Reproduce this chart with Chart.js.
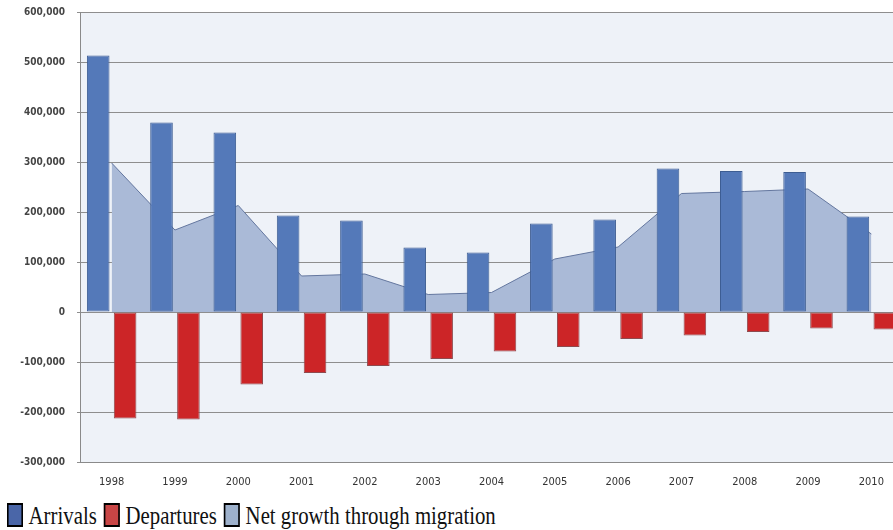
<!DOCTYPE html>
<html>
<head>
<meta charset="utf-8">
<script src="https://cdn.jsdelivr.net/npm/chart.js@4/dist/chart.umd.min.js"></script>
<style>
  body { margin: 0; background: #fff; width: 893px; height: 530px; overflow: hidden; position: relative; }
  #myChart { position: absolute; left: 0; top: 0; }
  #legend {
    position: absolute; left: 7px; top: 503px;
    display: flex; align-items: flex-start;
    font-family: "Liberation Serif", "Times New Roman", serif;
    font-size: 26px; line-height: 26px; color: #111;
    transform: scaleX(0.8); transform-origin: left top;
    white-space: nowrap;
  }
  #legend .box { width: 16px; height: 20px; border: 2px solid #000; margin-right: 7px; }
  #legend .item { display: flex; align-items: flex-start; margin-right: 9px; }
</style>
</head>
<body>
<canvas id="myChart" width="906" height="500"></canvas>
<div id="legend"></div>
<script>
const years = ["1998", "1999", "2000", "2001", "2002", "2003", "2004", "2005", "2006", "2007", "2008", "2009", "2010"];
const arrivals = [513000, 379000, 359000, 193000, 183000, 129000, 119000, 177000, 185000, 287000, 282000, 280000, 191000];
const departures = [-213000, -215000, -145000, -122000, -108000, -94000, -79000, -70000, -54000, -47000, -40000, -33000, -35000];
const netGrowth = [298000, 164000, 213000, 72000, 76000, 35000, 39000, 106000, 130000, 237000, 241000, 246000, 156000];
const seriesNames = ["Arrivals", "Departures", "Net growth through migration"];
const legendColors = ["#4a66a8", "#c94545", "#9db1cc"];

// fondo gris azulado del area de trazado
const plotBackground = {
  id: "plotBackground",
  beforeDraw(chart) {
    const { ctx, chartArea } = chart;
    ctx.save();
    ctx.fillStyle = "#eef2f8";
    ctx.fillRect(chartArea.left, chartArea.top, chartArea.right - chartArea.left, chartArea.bottom - chartArea.top);
    ctx.restore();
  },
};

const config = {
  type: "bar",
  data: {
    labels: years,
    datasets: [
      {
        label: seriesNames[0],
        data: arrivals,
        backgroundColor: "#5479b9",
        borderColor: "#3d5d92",
        borderWidth: 1,
        borderSkipped: false,
        order: 1,
      },
      {
        label: seriesNames[1],
        data: departures,
        backgroundColor: "#cc2527",
        borderColor: "#8e4a4e",
        borderWidth: 1,
        borderSkipped: false,
        order: 1,
      },
      {
        type: "line",
        label: seriesNames[2],
        data: netGrowth,
        backgroundColor: "#aabad7",
        borderColor: "#64779f",
        borderWidth: 1,
        fill: "origin",
        pointRadius: 0,
        tension: 0,
        order: 2,
      },
    ],
  },
  options: {
    responsive: false,
    animation: false,
    devicePixelRatio: 1,
    categoryPercentage: 0.85,
    barPercentage: 0.84,
    layout: { padding: { top: 12, right: 3, left: 0, bottom: 0 } },
    plugins: {
      legend: { display: false },
      tooltip: { enabled: false },
    },
    scales: {
      x: {
        offset: true,
        grid: { display: false, drawTicks: false },
        border: { display: true, color: "#8a8a8a", width: 1 },
        ticks: {
          padding: 14,
          color: "#333",
          font: { family: "'DejaVu Sans Condensed', 'Liberation Sans Narrow', sans-serif", size: 11 },
        },
        afterFit(scale) {
          scale.height = 38;
          scale.paddingLeft = 0;
          scale.paddingRight = 0;
        },
      },
      y: {
        min: -300000,
        max: 600000,
        grid: { color: "#8e8e8e", lineWidth: 1, drawTicks: true, tickLength: 3 },
        border: { display: true, color: "#8a8a8a", width: 1 },
        ticks: {
          stepSize: 100000,
          padding: 12,
          color: "#444",
          font: { family: "'DejaVu Sans Condensed', 'Liberation Sans Narrow', sans-serif", size: 10, weight: "bold" },
          callback: (v) => v.toLocaleString("en-US"),
        },
        afterFit(scale) {
          scale.width = 80;
          scale.paddingTop = 0;
          scale.paddingBottom = 0;
        },
      },
    },
  },
  plugins: [plotBackground],
};

const ctx = document.getElementById("myChart").getContext("2d");
const chart = new Chart(ctx, config);

// leyenda en HTML debajo del grafico
const legend = document.getElementById("legend");
chart.data.datasets.forEach((ds, i) => {
  const item = document.createElement("div");
  item.className = "item";
  const box = document.createElement("div");
  box.className = "box";
  box.style.background = legendColors[i];
  const text = document.createElement("span");
  text.innerText = ds.label;
  item.appendChild(box);
  item.appendChild(text);
  legend.appendChild(item);
});
</script>
</body>
</html>
